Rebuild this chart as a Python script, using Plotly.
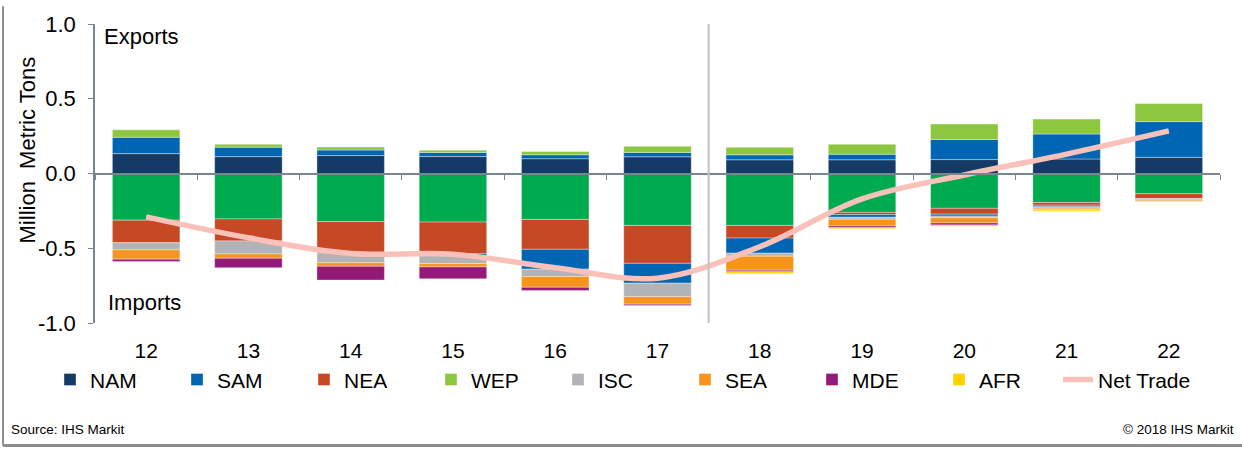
import plotly.graph_objects as go

# ---- data (million metric tons) ----
years = ["12", "13", "14", "15", "16", "17", "18", "19", "20", "21", "22"]

# exports (positive)
nam_exp = [0.133, 0.113, 0.120, 0.113, 0.099, 0.112, 0.092, 0.092, 0.093, 0.097, 0.108]
sam_exp = [0.109, 0.063, 0.037, 0.028, 0.026, 0.029, 0.033, 0.037, 0.135, 0.167, 0.239]
wep_exp = [0.050, 0.020, 0.020, 0.015, 0.022, 0.041, 0.050, 0.066, 0.103, 0.100, 0.121]

# imports (negative)
other_imp = [-0.312, -0.304, -0.321, -0.325, -0.307, -0.347, -0.347, -0.260, -0.233, -0.194, -0.135]
nea_imp = [-0.151, -0.147, -0.210, -0.212, -0.200, -0.254, -0.085, -0.015, -0.039, -0.018, -0.033]
sam_imp = [None, None, None, -0.013, -0.133, -0.133, -0.101, -0.018, -0.013, -0.011, None]
isc_imp = [-0.048, -0.087, -0.066, -0.053, -0.049, -0.090, -0.020, -0.013, -0.011, -0.009, -0.009]
sea_imp = [-0.062, -0.029, -0.024, -0.022, -0.072, -0.050, -0.094, -0.046, -0.035, -0.011, -0.007]
mde_imp = [-0.015, -0.063, -0.092, -0.079, -0.022, -0.009, -0.011, -0.011, -0.013, None, None]
afr_imp = [None, None, None, None, None, None, -0.013, -0.007, -0.009, -0.009, -0.005]

net_trade = [-0.29, -0.43, -0.535, -0.54, -0.63, -0.70, -0.49, -0.17, -0.01, 0.13, 0.285]

y_tickvals = [-1.0, -0.5, 0.0, 0.5, 1.0]
y_ticktext = ["-1.0", "-0.5", "0.0", "0.5", "1.0"]

# ---- styling ----
COLORS = {
    "NAM": "#133B65",
    "SAM": "#0065B2",
    "NEA": "#C74824",
    "WEP": "#8DC63F",
    "ISC": "#B2B3B6",
    "SEA": "#F6941E",
    "MDE": "#931A79",
    "AFR": "#FFD200",
    "Other": "#00AA4E",
    "Net": "#F9C1B9",
}
AXIS_GRAY = "#7A8594"
FONT = "Liberation Sans, Arial, sans-serif"

W, H = 1242, 450
L, R, T, B = 95, 22, 18, 127
PW, PH = W - L - R, H - T - B


def px_x(px):
    return (px - L) / PW


def px_y(px):
    return (H - B - px) / PH


BAR_W = 0.66
seg_line = dict(width=0.8, color="rgba(255,255,255,0.45)")

fig = go.Figure()


def add_bar(name, values, color, rank, show=True, group=None):
    fig.add_trace(go.Bar(
        x=years, y=values, name=name, width=BAR_W,
        marker=dict(color=color, line=seg_line),
        legendgroup=group or name, showlegend=show, legendrank=rank,
    ))


# stacking order: exports upward, imports downward from zero
add_bar("NAM", nam_exp, COLORS["NAM"], 1)
add_bar("SAM", sam_exp, COLORS["SAM"], 2)
add_bar("WEP", wep_exp, COLORS["WEP"], 4)
add_bar("Other", other_imp, COLORS["Other"], 20, show=False)
add_bar("NEA", nea_imp, COLORS["NEA"], 3)
add_bar("SAM", sam_imp, COLORS["SAM"], 2, show=False, group="SAM")
add_bar("ISC", isc_imp, COLORS["ISC"], 5)
add_bar("SEA", sea_imp, COLORS["SEA"], 6)
add_bar("MDE", mde_imp, COLORS["MDE"], 7)
add_bar("AFR", afr_imp, COLORS["AFR"], 8)

fig.add_trace(go.Scatter(
    x=years, y=net_trade, name="Net Trade", mode="lines",
    line=dict(color=COLORS["Net"], width=5.5, shape="spline", smoothing=1.0),
    xaxis="x2", legend="legend2",
))

legend_common = dict(
    orientation="h", yanchor="middle", y=px_y(381),
    font=dict(size=21, family=FONT), itemwidth=30,
    bgcolor="rgba(0,0,0,0)", xanchor="left",
)

fig.update_layout(
    width=W, height=H, autosize=False,
    margin=dict(l=L, r=R, t=T, b=B, pad=0),
    paper_bgcolor="white", plot_bgcolor="white",
    barmode="relative", bargap=0.34,
    font=dict(family=FONT, color="black", size=21),
    showlegend=True,
    legend=dict(
        legend_common, x=px_x(50),
        entrywidth=82, entrywidthmode="pixels", traceorder="normal",
    ),
    legend2=dict(legend_common, x=px_x(1058)),
    xaxis=dict(
        type="category", categoryorder="array", categoryarray=years,
        range=[-0.5, 10.5], showline=False, ticks="", showgrid=False,
        zeroline=False, tickfont=dict(size=21), ticklabelstandoff=13,
    ),
    xaxis2=dict(
        type="category", categoryorder="array", categoryarray=years,
        range=[-0.5, 10.5], overlaying="x", anchor="free", position=0.5,
        showline=True, linecolor=AXIS_GRAY, linewidth=2,
        ticks="outside", ticklen=5, tickwidth=1.2, tickcolor=AXIS_GRAY,
        tickson="boundaries", showticklabels=False, showgrid=False,
        zeroline=False, layer="above traces",
    ),
    yaxis=dict(
        range=[-1, 1], tickvals=y_tickvals, ticktext=y_ticktext,
        showline=True, linecolor=AXIS_GRAY, linewidth=1.5,
        ticks="outside", ticklen=5, tickwidth=1.2, tickcolor=AXIS_GRAY,
        showgrid=False, zeroline=False, tickfont=dict(size=22),
        ticklabelstandoff=8,
    ),
    shapes=[
        # forecast divider between 17 and 18
        dict(type="line", xref="x", yref="y", x0=5.5, x1=5.5, y0=-1.0, y1=1.0,
             line=dict(color="#BFC3C7", width=2)),
        # frame: left and bottom edges
        dict(type="line", xref="paper", yref="paper",
             x0=px_x(3), x1=px_x(3), y0=px_y(0), y1=px_y(448),
             line=dict(color="#8E8E8E", width=2)),
        dict(type="line", xref="paper", yref="paper",
             x0=px_x(3), x1=px_x(1242), y0=px_y(448), y1=px_y(448),
             line=dict(color="#8E8E8E", width=3)),
    ],
    annotations=[
        dict(text="Exports", xref="paper", yref="paper", x=px_x(102), y=px_y(31),
             xanchor="left", yanchor="middle", showarrow=False, font=dict(size=22)),
        dict(text="Imports", xref="paper", yref="paper", x=px_x(106), y=px_y(302),
             xanchor="left", yanchor="middle", showarrow=False, font=dict(size=22)),
        dict(text="Million  Metric Tons", xref="paper", yref="paper",
             x=px_x(27), y=px_y(147), xanchor="center", yanchor="middle",
             textangle=-90, showarrow=False, font=dict(size=22)),
        dict(text="Source: IHS Markit", xref="paper", yref="paper",
             x=px_x(9), y=px_y(432), xanchor="left", yanchor="middle",
             showarrow=False, font=dict(size=13.5)),
        dict(text="© 2018 IHS Markit", xref="paper", yref="paper",
             x=px_x(1236), y=px_y(432), xanchor="right", yanchor="middle",
             showarrow=False, font=dict(size=13.5)),
    ],
)

fig.write_html("out.html")
